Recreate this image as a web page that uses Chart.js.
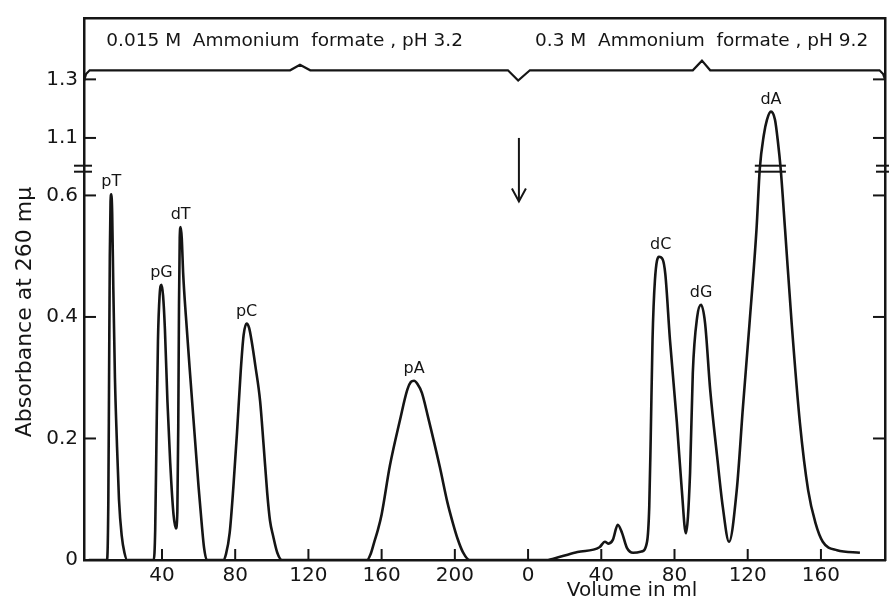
<!DOCTYPE html>
<html>
<head>
<meta charset="utf-8">
<script src="https://cdn.jsdelivr.net/npm/chart.js@4.4.1/dist/chart.umd.min.js"></script>
<style>
  html, body { margin: 0; padding: 0; background: #fff; }
  #wrap { width: 889px; height: 603px; }
</style>
</head>
<body>
<div id="wrap"><canvas id="chart"></canvas></div>
<script>
// ===== DATA =====
// volume runs on as one axis: 0-240 is the pH 3.2 buffer, 240+ is the pH 9.2 buffer (shown again from 0)
const volume = [
    0, 10, 10.7, 11.1, 11.5, 11.9, 12.3, 12.8, 13.4, 14.3, 15.3, 16.5, 18, 19.5, 21,
    35.5, 36.3, 37, 37.8, 38.7, 39.7, 40.6, 41.6, 43, 44.5, 46.3, 47.6, 48.4, 48.9, 49.3, 49.7, 50.2, 50.8, 51.6, 53.1, 55.5, 58, 60, 61.7, 63, 64.5,
    73.5, 75, 77, 79, 81, 83, 84.6, 86.2, 87.6, 89, 91, 93.6, 95.5, 97.5, 99, 100.7, 103, 105.5,
    152, 154, 156, 158, 160, 164.5, 170, 174, 176, 177.7, 179.5, 182, 185.3, 191.8, 196, 199, 201.5, 204.4, 208,
    250, 257, 267, 279, 282, 284, 286.3, 289, 291.3, 294, 297.4, 302, 305, 306.2, 307, 308, 309.3, 311.5, 313.5, 315, 317.5, 321.3, 324, 326.2,
    328.5, 330, 332.4, 334.5, 336.7, 339.5, 343.3, 346.4, 349.8,
    354, 357.4, 361, 364.8, 366.6, 368.8, 370.5, 372.7, 374.9, 376.5, 378, 380.4, 384, 388.5, 393, 397, 401, 408.8, 421.3
]
const absorbance = [
    0, 0, 0.1, 0.3, 0.5, 0.59, 0.602, 0.57, 0.45, 0.3, 0.2, 0.1, 0.04, 0.012, 0,
    0, 0.05, 0.2, 0.36, 0.435, 0.453, 0.435, 0.38, 0.26, 0.16, 0.075, 0.052, 0.08, 0.22, 0.42, 0.53, 0.548, 0.53, 0.47, 0.4, 0.3, 0.2, 0.12, 0.06, 0.02, 0,
    0, 0.01, 0.045, 0.12, 0.21, 0.31, 0.37, 0.389, 0.382, 0.36, 0.32, 0.262, 0.19, 0.11, 0.065, 0.04, 0.012, 0,
    0, 0.01, 0.03, 0.05, 0.075, 0.155, 0.23, 0.28, 0.293, 0.295, 0.29, 0.275, 0.236, 0.153, 0.094, 0.06, 0.035, 0.013, 0,
    0, 0.005, 0.013, 0.021, 0.03, 0.027, 0.033, 0.058, 0.045, 0.02, 0.012, 0.014, 0.03, 0.087, 0.2, 0.363, 0.46, 0.499, 0.495, 0.47, 0.363, 0.226, 0.115, 0.044,
    0.143, 0.308, 0.4, 0.42, 0.39, 0.28, 0.17, 0.087, 0.03,
    0.115, 0.252, 0.39, 0.544, 0.644, 1.11, 1.162, 1.19, 1.162, 1.087, 0.644, 0.544, 0.39, 0.226, 0.115, 0.061, 0.03, 0.016, 0.012
]

const peakNames = ['pT', 'pG', 'dT', 'pC', 'pA', 'dC', 'dG', 'dA']
const peakVolumes = [12.3, 39.7, 50.2, 86.2, 177.7, 312.5, 334.5, 372.7]
const peakValues = [0.602, 0.453, 0.548, 0.389, 0.295, 0.499, 0.42, 1.19]

// buffer change line along the top
const headerVolume = [-2.6, -1.5, 0.5, 110, 115.4, 121, 229, 234.6, 241, 330, 335, 339.5, 432, 434, 435]
const headerLevel = [1.295, 1.318, 1.331, 1.331, 1.35, 1.331, 1.331, 1.296, 1.331, 1.331, 1.364, 1.331, 1.331, 1.318, 1.3]

const bufferNames = ['0.015 M  Ammonium  formate , pH 3.2', '0.3 M  Ammonium  formate , pH 9.2']
const bufferVolumes = [107, 334.8]
const bufferLevel = 1.43

const arrowVolume = 235
const arrowFrom = 1.1
const arrowTo = 0.59

const xTickValues = [40, 80, 120, 160, 200, 240, 280, 320, 360, 400]
const xTickLabels = ['40', '80', '120', '160', '200', '0', '40', '80', '120', '160']
const yTickValues = [0, 0.2, 0.4, 0.6, 1.1, 1.3]
const yTickLabels = ['0', '0.2', '0.4', '0.6', '1.1', '1.3']

// ===== BROKEN Y AXIS =====
const BREAK_LOW = 0.644
const BREAK_HIGH = 0.995
const UPPER_SQUEEZE = 0.482

function brk(v) {
    if (v <= BREAK_LOW) return v
    if (v < BREAK_HIGH) return BREAK_LOW
    return BREAK_LOW + (v - BREAK_HIGH) * UPPER_SQUEEZE
}

const ink = '#151515'
const font = '"DejaVu Sans", sans-serif'

// ===== EXTRA DRAWING =====
const decor = {
    id: 'decor',
    afterDraw(chart) {
        const {ctx, chartArea: a, scales: {x, y}} = chart
        const line = (x1, y1, x2, y2) => {
            ctx.beginPath(); ctx.moveTo(x1, y1); ctx.lineTo(x2, y2); ctx.stroke()
        }
        ctx.save()
        ctx.strokeStyle = ink
        ctx.fillStyle = ink
        ctx.lineWidth = 2

        // inward ticks
        xTickValues.forEach(v => {
            const px = x.getPixelForValue(v)
            line(px, a.bottom, px, a.bottom - 11)
        })
        yTickValues.forEach(v => {
            if (v === 0) return
            const py = y.getPixelForValue(brk(v))
            line(a.left, py, a.left + 12, py)
            line(a.right, py, a.right - 12, py)
        })

        // break marks on both axes and on the dA peak
        const pb = y.getPixelForValue(BREAK_LOW)
        const high = volume.filter((_, i) => absorbance[i] > BREAK_LOW)
        const marks = [
            [a.left - 10, a.left + 8],
            [a.right - 9, a.right + 4],
            [x.getPixelForValue(Math.min(...high)) - 9, x.getPixelForValue(Math.max(...high)) + 8]
        ]
        marks.forEach(([l, r]) => {
            line(l, pb - 3, r, pb - 3)
            line(l, pb + 3, r, pb + 3)
        })

        // arrow marking the buffer change
        const ax = x.getPixelForValue(arrowVolume)
        const top = y.getPixelForValue(brk(arrowFrom))
        const tip = y.getPixelForValue(brk(arrowTo))
        line(ax, top, ax, tip)
        ctx.beginPath()
        ctx.moveTo(ax - 7, tip - 13); ctx.lineTo(ax, tip); ctx.lineTo(ax + 7, tip - 13)
        ctx.stroke()

        // peak names
        ctx.textAlign = 'center'
        ctx.textBaseline = 'alphabetic'
        ctx.font = '16px ' + font
        peakNames.forEach((n, i) => {
            ctx.fillText(n, x.getPixelForValue(peakVolumes[i]), y.getPixelForValue(brk(peakValues[i])) - 8)
        })

        // buffer names
        ctx.textBaseline = 'middle'
        ctx.font = '18.5px ' + font
        bufferNames.forEach((n, i) => {
            ctx.fillText(n, x.getPixelForValue(bufferVolumes[i]), y.getPixelForValue(brk(bufferLevel)))
        })

        // axis titles
        ctx.font = '20px ' + font
        ctx.fillText('Volume in ml', 632, 591)
        ctx.translate(25, 312)
        ctx.rotate(-Math.PI / 2)
        ctx.font = '22px ' + font
        ctx.fillText('Absorbance at 260 mμ', 0, 0)
        ctx.restore()
    }
}

// ===== CHART =====
const ctx = document.querySelector('#chart').getContext('2d')

const axisBorder = { display: true, color: ink, width: 2.5 }

new Chart(ctx, {
    type: 'line',
    data: {
        datasets: [
            {
                data: volume.map((v, i) => ({ x: v, y: brk(absorbance[i]) })),
                borderColor: ink,
                borderWidth: 2.6,
                pointRadius: 0,
                cubicInterpolationMode: 'monotone',
                fill: false
            },
            {
                data: headerVolume.map((v, i) => ({ x: v, y: brk(headerLevel[i]) })),
                borderColor: ink,
                borderWidth: 2.2,
                pointRadius: 0,
                tension: 0,
                fill: false
            }
        ]
    },
    options: {
        responsive: true,
        maintainAspectRatio: false,
        animation: false,
        layout: { padding: 0 },
        plugins: { legend: { display: false }, tooltip: { enabled: false } },
        scales: {
            x: {
                type: 'linear',
                position: 'bottom',
                min: -2.6,
                max: 435,
                grid: { display: false, drawTicks: false },
                border: axisBorder,
                ticks: {
                    autoSkip: false,
                    maxRotation: 0,
                    padding: 4,
                    color: ink,
                    font: { family: font, size: 20 },
                    callback: (value, index) => xTickLabels[index]
                },
                afterBuildTicks: axis => { axis.ticks = xTickValues.map(value => ({ value })) },
                afterFit: axis => { axis.height = 43 }
            },
            xTop: {
                type: 'linear',
                position: 'top',
                min: -2.6,
                max: 435,
                grid: { display: false, drawTicks: false },
                border: axisBorder,
                ticks: { display: false },
                afterFit: axis => { axis.height = 14 }
            },
            y: {
                type: 'linear',
                position: 'left',
                min: 0,
                max: 0.892,
                grid: { display: false, drawTicks: false },
                border: axisBorder,
                ticks: {
                    autoSkip: false,
                    padding: 6,
                    color: ink,
                    font: { family: font, size: 20 },
                    callback: (value, index) => yTickLabels[index]
                },
                afterBuildTicks: axis => { axis.ticks = yTickValues.map(v => ({ value: brk(v) })) },
                afterFit: axis => { axis.width = 84 }
            },
            yRight: {
                type: 'linear',
                position: 'right',
                min: 0,
                max: 0.892,
                grid: { display: false, drawTicks: false },
                border: axisBorder,
                ticks: { display: false },
                afterFit: axis => { axis.width = 4 }
            }
        }
    },
    plugins: [decor]
})
</script>
</body>
</html>
